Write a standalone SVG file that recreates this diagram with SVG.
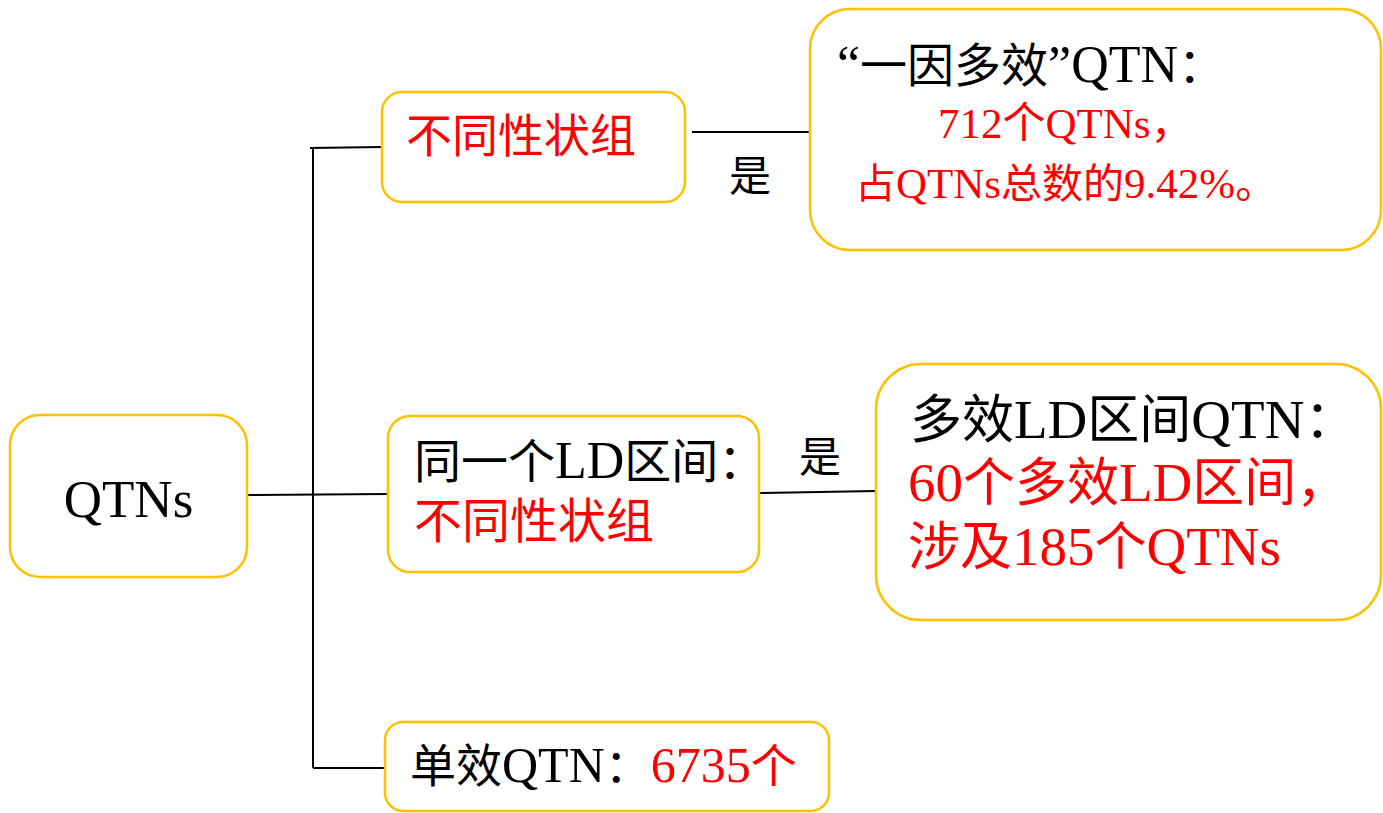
<svg xmlns="http://www.w3.org/2000/svg" width="1383" height="813" viewBox="0 0 1383 813">
<style>
.box{fill:#fff;stroke:#FFC000;stroke-width:2.5}
.t{font-family:"Liberation Serif","Noto Sans CJK SC",serif;fill:#000}
.r{fill:#FF0000}
.ln{stroke:#000;stroke-width:2;fill:none}
</style>
<rect width="1383" height="813" fill="#fff"/>
<g id="connectors">
<line class="ln" x1="313" y1="148" x2="313" y2="768"/>
<line class="ln" x1="310" y1="148" x2="382" y2="147"/>
<line class="ln" x1="247" y1="495" x2="388" y2="494"/>
<line class="ln" x1="313" y1="768" x2="385" y2="768"/>
<line class="ln" x1="692" y1="132" x2="810" y2="132"/>
<line class="ln" x1="760" y1="493" x2="876" y2="491"/>
<text class="t" x="750" y="191" font-size="42" text-anchor="middle">是</text>
<text class="t" x="820" y="472" font-size="42" text-anchor="middle">是</text>
</g>
<g id="qtns">
<rect class="box" x="10" y="415" width="237" height="162" rx="30"/>
<text class="t" x="128.5" y="517" font-size="53" text-anchor="middle">QTNs</text>
</g>
<g id="diff">
<rect class="box" x="382" y="92" width="303" height="110" rx="20"/>
<text class="t r" x="406" y="152" font-size="46">不同性状组</text>
</g>
<g id="ld">
<rect class="box" x="388" y="416" width="371" height="156" rx="22"/>
<text class="t" x="414" y="478" font-size="47">同一个<tspan font-size="52">LD</tspan>区间：</text>
<text class="t r" x="414" y="538" font-size="48">不同性状组</text>
</g>
<g id="single">
<rect class="box" x="385" y="722" width="444" height="89" rx="18"/>
<text class="t" x="410" y="782" font-size="46">单效<tspan font-size="50">QTN</tspan>：<tspan class="r" font-size="50">6735</tspan><tspan class="r">个</tspan></text>
</g>
<g id="pleio">
<rect class="box" x="810" y="9" width="571" height="241" rx="40"/>
<text class="t" x="837" y="82" font-size="47"><tspan font-size="52">“</tspan>一因多效<tspan font-size="52">”QTN</tspan>：</text>
<text class="t r" x="938" y="138" font-size="43"><tspan font-size="43">712</tspan>个<tspan font-size="43">QTNs</tspan>，</text>
<text class="t r" x="855" y="198" font-size="41">占<tspan font-size="43">QTNs</tspan>总数的<tspan font-size="43">9.42%</tspan>。</text>
</g>
<g id="ldpleio">
<rect class="box" x="876" y="364" width="505" height="256" rx="45"/>
<text class="t" x="910" y="438" font-size="52">多效<tspan font-size="55">LD</tspan>区间<tspan font-size="55">QTN</tspan>：</text>
<text class="t r" x="908" y="501" font-size="52"><tspan font-size="55">60</tspan>个多效<tspan font-size="55">LD</tspan>区间，</text>
<text class="t r" x="908" y="565" font-size="52">涉及<tspan font-size="55">185</tspan>个<tspan font-size="55">QTNs</tspan></text>
</g>
</svg>
